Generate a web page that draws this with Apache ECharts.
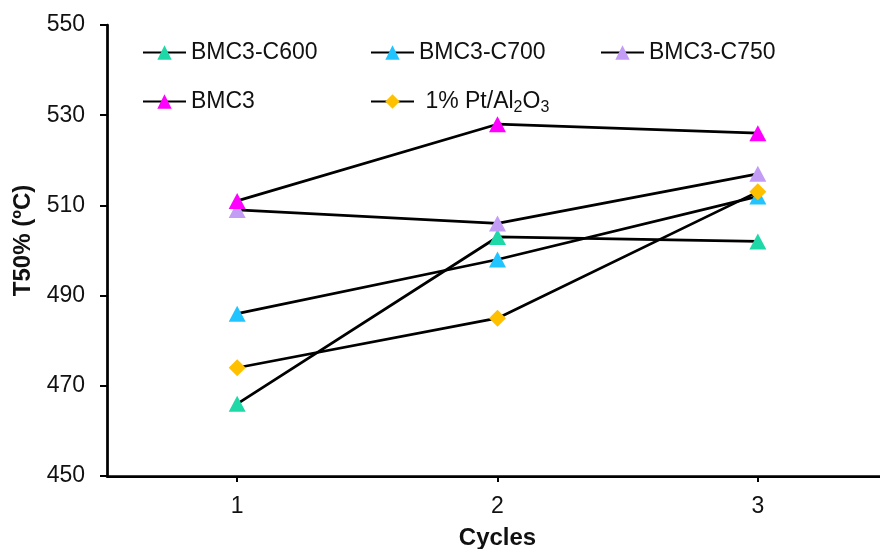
<!DOCTYPE html>
<html><head><meta charset="utf-8">
<script src="https://cdn.jsdelivr.net/npm/echarts@6/dist/echarts.min.js"></script>
<style>html,body{margin:0;padding:0;background:#fff}#c{width:880px;height:549px}</style>
</head><body><div id="c"></div>
<script>
const cycles = [1, 2, 3];
const seriesNames = ['BMC3-C600', 'BMC3-C700', 'BMC3-C750', 'BMC3', '1% Pt/Al2O3'];
const c600 = [466, 503, 502];
const c700 = [486, 498, 512];
const c750 = [509, 506, 517];
const bmc3 = [511, 528, 526];
const ptAl = [474, 485, 513];
const yTicks = [450, 470, 490, 510, 530, 550];

const colors = ['#1ed8a8', '#22c4ff', '#c39cf5', '#ff00ff', '#ffc000'];
const symbols = ['triangle', 'triangle', 'triangle', 'triangle', 'diamond'];
const values = [c600, c700, c750, bmc3, ptAl];
const font = 'Liberation Sans, Arial, sans-serif';
const txt = '#111';

const series = seriesNames.map((n, i) => ({
  name: n, type: 'line',
  data: cycles.map((c, j) => [c, values[i][j]]),
  symbol: symbols[i], symbolSize: i === 4 ? [17, 17] : [17, 16],
  lineStyle: {color: '#000', width: 2.75},
  itemStyle: {color: colors[i]},
  z: 2 + i
}));
const legendPos = [[137, 36], [365, 36], [595, 36], [137, 85], [365, 85]];
const legends = seriesNames.map((n, i) => ({
  data: [n], left: legendPos[i][0], top: legendPos[i][1],
  itemWidth: 43, itemHeight: 18, itemGap: 0,
  textStyle: {fontFamily: font, fontSize: 23, color: txt,
    rich: {sub: {fontFamily: font, fontSize: 16, color: txt, padding: [12, 0, 0, 0]},
           n: {fontFamily: font, fontSize: 23, color: txt}}},
  formatter: nm => nm === '1% Pt/Al2O3' ? '{n| 1% Pt/Al}{sub|2}{n|O}{sub|3}' : nm
}));

const chart = echarts.init(document.getElementById('c'));
chart.setOption({
  animation: false,
  backgroundColor: '#fff',
  grid: {left: 107, right: -8, top: 25, bottom: 73, containLabel: false, outerBoundsMode: 'none'},
  legend: legends,
  xAxis: {
    type: 'value', min: 0.5, max: 3.5,
    name: 'Cycles', nameLocation: 'middle', nameGap: 50,
    nameTextStyle: {fontFamily: font, fontSize: 24, fontWeight: 'bold', color: txt},
    axisLine: {lineStyle: {color: '#000', width: 2.75}},
    axisTick: {show: true, length: 6, lineStyle: {color: '#000', width: 2}, customValues: cycles},
    axisLabel: {fontFamily: font, fontSize: 23, color: txt, margin: 19, customValues: cycles},
    splitLine: {show: false}
  },
  yAxis: {
    type: 'value', min: 450, max: 550, interval: 20,
    name: 'T50% (ºC)', nameLocation: 'middle', nameGap: 72, nameRotate: 90,
    nameTextStyle: {fontFamily: font, fontSize: 24, fontWeight: 'bold', color: txt, padding: [0, 0, 0, 20]},
    axisLine: {show: true, lineStyle: {color: '#000', width: 2.75}},
    axisTick: {show: true, length: 7, lineStyle: {color: '#000', width: 2}},
    axisLabel: {fontFamily: font, fontSize: 23, color: txt, margin: 22, customValues: yTicks},
    splitLine: {show: false}
  },
  series: series
});
</script></body></html>
